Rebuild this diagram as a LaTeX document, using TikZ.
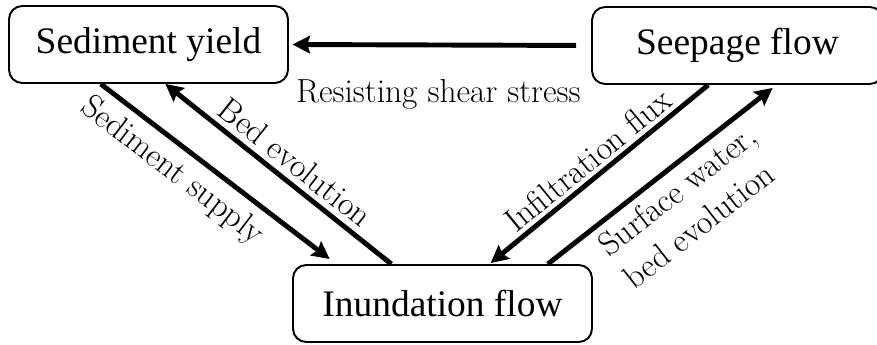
\documentclass[tikz,border=0pt]{standalone}
\usepackage{fontspec}
\newfontfamily\boxfont{Liberation Serif}
\usetikzlibrary{arrows.meta,calc}
\tikzset{
  >={Stealth[length=10pt,width=10pt,inset=1.6pt]},
  procbox/.style={draw, line width=1.1pt, rounded corners=7.5pt, minimum height=1.54cm,
    inner sep=0pt, font=\boxfont\fontsize{21.3}{25}\selectfont},
  flowarrow/.style={line width=2.8pt},
  flowlabel/.style={font=\fontsize{19}{23.3}\selectfont, inner sep=0pt},
}
\begin{document}
\begin{tikzpicture}[x=0.02cm,y=-0.02cm]
\useasboundingbox (0,0) rectangle (877,345);
% boxes
\node[procbox, minimum width=5.58cm] (sy) at (148.5,44.5) {Sediment yield};
\node[procbox, minimum width=5.82cm] (sf) at (737.5,45.5) {Seepage flow};
\node[procbox, minimum width=5.98cm] (inf) at (442.5,303.5) {Inundation flow};
% connectors
\draw[flowarrow,->, shorten <=0.3cm, shorten >=2pt] (sf.west) -- (sy.east)
  node[flowlabel, pos=.505, below, outer sep=19.6pt] {Resisting shear stress};
\draw[flowarrow,->] ($(sy.south west)!.33!(sy.south east)$) -- ($(inf.north west)!.125!(inf.north east)+(0,-5)$)
  node[flowlabel, sloped, pos=.38, below, outer sep=6.3pt] {Sediment supply};
\draw[flowarrow,<-] ($(sy.south west)!.56!(sy.south east)$) -- ($(inf.north west)!.33!(inf.north east)$)
  node[flowlabel, sloped, pos=.52, above, outer sep=4.7pt] {Bed evolution};
\draw[flowarrow,<-] ($(inf.north west)!.66!(inf.north east)+(0,-1)$) -- ($(sf.south west)!.40!(sf.south east)$)
  node[flowlabel, sloped, pos=.5, above, outer sep=3.5pt] {Infiltration flux};
\draw[flowarrow,->] ($(inf.north west)!.85!(inf.north east)$) -- ($(sf.south west)!.62!(sf.south east)+(0,3)$)
  node[flowlabel, sloped, pos=.515, below, outer sep=5.5pt, align=left] {Surface water,\\ bed evolution};
\end{tikzpicture}
\end{document}
